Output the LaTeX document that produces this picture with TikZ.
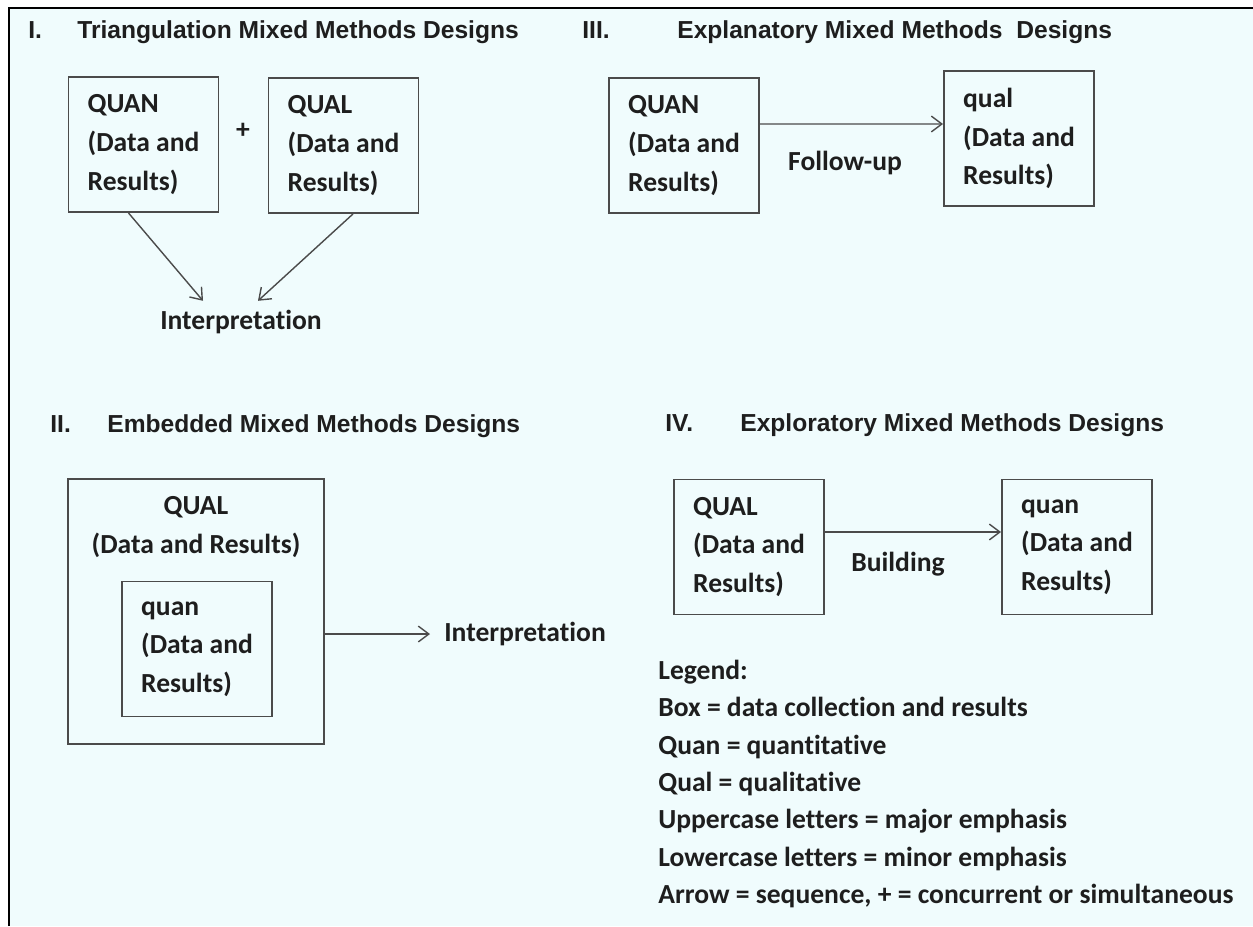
\documentclass[tikz,border=0pt]{standalone}
\usepackage{fontspec}
\setmainfont{Carlito}[Ligatures=NoCommon]
\newfontfamily\headfont{Liberation Sans}
\usepackage{xcolor}
\definecolor{panelcyan}{RGB}{240,252,253}
\definecolor{inkgray}{RGB}{30,30,30}
\definecolor{linegray}{RGB}{75,75,75}
\usepackage{tikz}
\usetikzlibrary{positioning,arrows.meta}

\begin{document}
\begin{tikzpicture}[
    x=0.02cm, y=-0.02cm,
    every node/.style={text=inkgray, font=\bfseries\fontsize{15.7}{22}\selectfont},
    heading/.style={font=\headfont\bfseries\fontsize{14}{17}\selectfont, inner sep=0pt, anchor=base west},
    databox/.style={rectangle, draw=linegray, line width=1.1pt, minimum width=3cm, minimum height=2.7cm, align=left, inner sep=0pt},
    plain/.style={inner sep=0pt},
    seq/.style={-{Straight Barb[length=6pt,width=9pt]}, linegray, line width=0.8pt}
]
\useasboundingbox (0,0) rectangle (1253,926);
% Background and frame
\fill[white] (0,0) rectangle (1253,926);
\fill[panelcyan] (9,8) rectangle (1253,926);
\draw[black, line width=1.7pt] (9,926) -- (9,8) -- (1253,8);

% Headings
\node[heading] (numOne) at (28,39) {I.};
\node[heading] (headOne) at (77,39) {Triangulation Mixed Methods Designs};
\node[heading] (numThree) at (582,39) {III.};
\node[heading] (headThree) at (677,39) {Explanatory Mixed Methods\ \ Designs};
\node[heading] (numTwo) at (50,432) {II.};
\node[heading] (headTwo) at (107,432) {Embedded Mixed Methods Designs};
\node[heading] (numFour) at (665,431) {IV.};
\node[heading] (headFour) at (740,431) {Exploratory Mixed Methods Designs};

% I. Triangulation
\node[databox] (quanTri) at (143.5,144.5) {QUAN\\(Data and\\Results)};
\node[databox] (qualTri) at (343.5,145.5) {QUAL\\(Data and\\Results)};
\node[plain] (plusTri) at (243,131) {+};
\node[plain] (interpTri) at (241,322) {Interpretation};
\draw[seq] ([xshift=-0.3cm]quanTri.south) -- ([xshift=-0.76cm,yshift=0.18cm]interpTri.north);
\draw[seq] ([xshift=0.19cm]qualTri.south) -- ([xshift=0.34cm,yshift=0.18cm]interpTri.north);

% III. Explanatory
\node[databox] (quanExpl) at (684,145.5) {QUAN\\(Data and\\Results)};
\node[databox] (qualExpl) at (1019,138.5) {qual\\(Data and\\Results)};
\draw[seq] ([yshift=0.43cm]quanExpl.east) -- ([yshift=0.29cm]qualExpl.west);
\node[plain] (followUp) at (845,163) {Follow-up};

% II. Embedded
\node[draw=linegray, line width=1.1pt, minimum width=5.12cm, minimum height=5.3cm, inner sep=0pt] (qualEmb) at (196,611.5) {};
\node[plain, align=center, below=0.36cm of qualEmb.north] (qualEmbTxt) {QUAL\\(Data and Results)};
\node[databox] (quanEmb) at (197,649) {quan\\(Data and\\Results)};
\node[plain, anchor=west] (interpEmb) at (444,634) {Interpretation};
\draw[seq] (qualEmb.east |- interpEmb.west) -- ([xshift=-0.28cm]interpEmb.west);

% IV. Exploratory
\node[databox] (qualExpr) at (749,547) {QUAL\\(Data and\\Results)};
\node[databox] (quanExpr) at (1077,547) {quan\\(Data and\\Results)};
\draw[seq] ([yshift=0.3cm]qualExpr.east) -- ([yshift=0.3cm]quanExpr.west);
\node[plain] (building) at (898,564) {Building};

% Legend
\node[plain, anchor=west, align=left, font=\bfseries\fontsize{15.7}{21.3}\selectfont] (legend) at (658,784)
  {Legend:\\Box = data collection and results\\Quan = quantitative\\Qual = qualitative\\Uppercase letters = major emphasis\\Lowercase letters = minor emphasis\\Arrow = sequence, + = concurrent or simultaneous};
\end{tikzpicture}
\end{document}
